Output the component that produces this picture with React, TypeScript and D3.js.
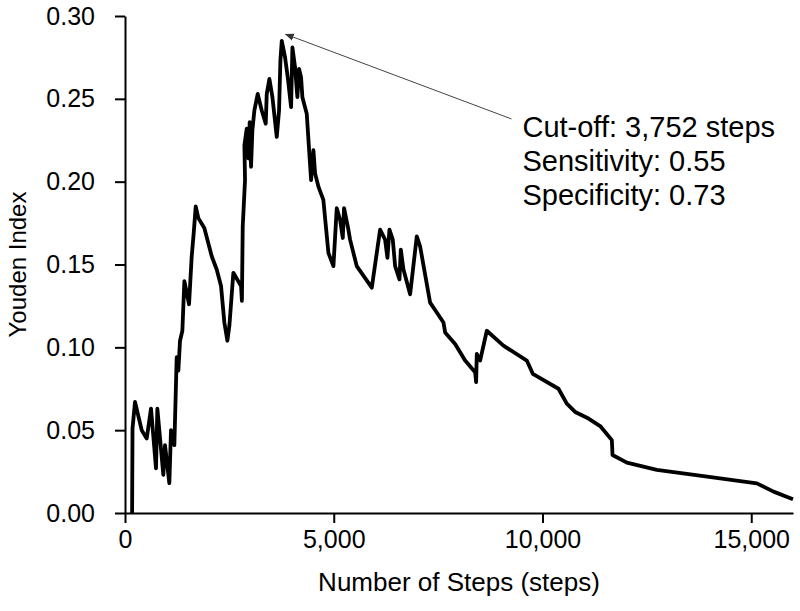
import React, { useEffect, useRef } from "react";
import * as d3 from "d3";

// step counts (x) and Youden index (y)
const steps = [
  170, 180, 240, 400, 520, 623, 743, 775, 918, 958, 1062, 1102, 1182, 1238, 1278, 1318, 1374, 1422,
  1534, 1598, 1646, 1694, 1757, 1900, 2077, 2197, 2300, 2380, 2452, 2500, 2595, 2780, 2800, 2820,
  2875, 2860, 2915, 2955, 2987, 3019, 3051, 3099, 3179, 3275, 3371, 3395, 3459, 3531, 3635, 3690,
  3722, 3755, 3834, 3898, 3978, 4010, 4073, 4129, 4169, 4217, 4249, 4353, 4457, 4513, 4553, 4633,
  4751, 4872, 4992, 5072, 5152, 5216, 5247, 5351, 5391, 5551, 5911, 6110, 6230, 6286, 6334, 6414,
  6470, 6574, 6606, 6670, 6829, 6989, 7068, 7308, 7468, 7628, 7668, 7907, 8147, 8386, 8410, 8426,
  8506, 8666, 9064, 9624, 9768, 10383, 10582, 10782, 11102, 11381, 11661, 11677, 12021, 12739,
  13857, 15134, 15534, 16000,
];
const youden = [
  0, 0.051, 0.067, 0.05, 0.045, 0.063, 0.027, 0.063, 0.023, 0.041, 0.018, 0.05, 0.041, 0.094, 0.086,
  0.104, 0.11, 0.14, 0.126, 0.155, 0.169, 0.185, 0.178, 0.172, 0.155, 0.147, 0.137, 0.115, 0.104,
  0.113, 0.145, 0.137, 0.128, 0.173, 0.201, 0.222, 0.232, 0.214, 0.236, 0.209, 0.231, 0.243, 0.253,
  0.243, 0.235, 0.253, 0.262, 0.251, 0.227, 0.243, 0.273, 0.285, 0.275, 0.263, 0.245, 0.281, 0.269,
  0.251, 0.268, 0.263, 0.251, 0.241, 0.201, 0.219, 0.205, 0.197, 0.189, 0.157, 0.149, 0.184, 0.177,
  0.166, 0.184, 0.171, 0.165, 0.149, 0.136, 0.171, 0.165, 0.154, 0.171, 0.165, 0.149, 0.141, 0.159,
  0.147, 0.132, 0.167, 0.161, 0.127, 0.121, 0.115, 0.109, 0.102, 0.092, 0.085, 0.079, 0.096, 0.092,
  0.11, 0.101, 0.092, 0.084, 0.075, 0.066, 0.061, 0.057, 0.0525, 0.044, 0.035, 0.0304, 0.026, 0.0223,
  0.0179, 0.0129, 0.0083,
];

const xTicks = [0, 5000, 10000, 15000];
const yTicks = [0, 0.05, 0.1, 0.15, 0.2, 0.25, 0.3];

const cutoff = 3752;
const cutoffY = 0.289;
const noteLines = ["Cut-off: 3,752 steps", "Sensitivity: 0.55", "Specificity: 0.73"];

export default function App() {
  const svgRef = useRef<SVGSVGElement>(null);

  useEffect(() => {
    if (!svgRef.current) return;
    const svg = d3.select(svgRef.current);
    svg.selectAll("*").remove();

    const width = 800;
    const height = 611;
    const margin = { top: 16, right: 7, bottom: 98, left: 125 };

    const x = d3.scaleLinear().domain([0, 16000]).range([margin.left, width - margin.right]);
    const y = d3.scaleLinear().domain([0, 0.3]).range([height - margin.bottom, margin.top]);

    const font = "'Liberation Sans', Arial, sans-serif";

    const defs = svg.append("defs");
    defs
      .append("marker")
      .attr("id", "arrowhead")
      .attr("viewBox", "0 0 10 10")
      .attr("refX", 9)
      .attr("refY", 5)
      .attr("markerWidth", 9)
      .attr("markerHeight", 9)
      .attr("orient", "auto")
      .append("path")
      .attr("d", "M0,1 L10,5 L0,9 Z")
      .attr("fill", "#333");

    // axes
    const xAxis = svg
      .append("g")
      .attr("transform", `translate(0,${y(0)})`)
      .call(d3.axisBottom(x).tickValues(xTicks).tickFormat(d3.format(",")).tickSize(10).tickSizeOuter(0).tickPadding(7));
    const yAxis = svg
      .append("g")
      .attr("transform", `translate(${x(0)},0)`)
      .call(d3.axisLeft(y).tickValues(yTicks).tickFormat(d3.format(".2f")).tickSize(10).tickSizeOuter(0).tickPadding(20));

    [xAxis, yAxis].forEach((a) => {
      a.select(".domain").attr("stroke", "#000").attr("stroke-width", 2);
      a.selectAll(".tick line").attr("stroke", "#000").attr("stroke-width", 2);
      a.selectAll(".tick text")
        .attr("fill", "#000")
        .style("font-family", font)
        .style("font-size", "25px");
    });

    // curve
    const pts = steps.map((s, i) => [s, youden[i]] as [number, number]);
    svg
      .append("path")
      .datum(pts)
      .attr("fill", "none")
      .attr("stroke", "#000")
      .attr("stroke-width", 3.8)
      .attr("stroke-linejoin", "round")
      .attr("d", d3.line<[number, number]>().x((d) => x(d[0])).y((d) => y(d[1])));

    // annotation
    const labelX = x(9520);
    const labelY = y(0.227);
    svg
      .append("line")
      .attr("x1", labelX - 11)
      .attr("y1", labelY - 18)
      .attr("x2", x(cutoff) + 4)
      .attr("y2", y(cutoffY))
      .attr("stroke", "#444")
      .attr("stroke-width", 1)
      .attr("marker-end", "url(#arrowhead)");

    svg
      .append("g")
      .selectAll("text")
      .data(noteLines)
      .enter()
      .append("text")
      .attr("x", labelX)
      .attr("y", (_, i) => labelY + i * 34)
      .text((d) => d)
      .style("font-family", font)
      .style("font-size", "29px")
      .attr("fill", "#000");

    // axis titles
    svg
      .append("text")
      .attr("x", (x(0) + x(16000)) / 2)
      .attr("y", 591)
      .attr("text-anchor", "middle")
      .style("font-family", font)
      .style("font-size", "26px")
      .text("Number of Steps (steps)");

    svg
      .append("text")
      .attr("transform", `translate(26,${(y(0) + y(0.3)) / 2}) rotate(-90)`)
      .attr("text-anchor", "middle")
      .style("font-family", font)
      .style("font-size", "24px")
      .text("Youden Index");
  }, []);

  return (
    <div style={{ position: "absolute", left: 0, top: 0, width: 800, height: 611, background: "#fff" }}>
      <svg ref={svgRef} width={800} height={611} />
    </div>
  );
}
